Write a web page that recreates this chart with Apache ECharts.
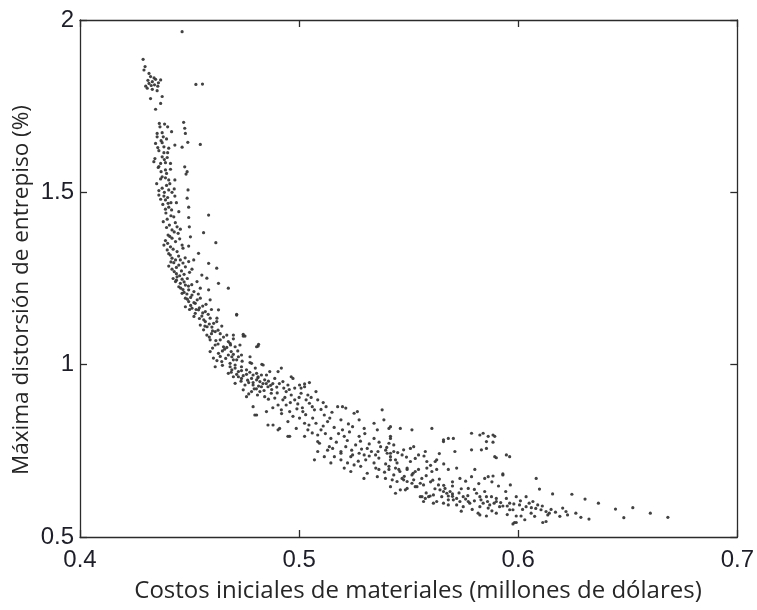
<!DOCTYPE html>
<html>
<head>
<meta charset="utf-8">
<script src="https://cdn.jsdelivr.net/npm/echarts@6/dist/echarts.min.js"></script>
<style>
  html, body { margin: 0; padding: 0; background: #fff; }
  #chart { width: 757px; height: 610px; }
</style>
</head>
<body>
<div id="chart"></div>
<script>
// Material cost (millions of dollars) vs. maximum interstory drift (%), one point per design.
const steepBranch = [
  [0.4466,1.966],[0.4288,1.886],[0.4297,1.865],[0.4292,1.855],[0.4315,1.845],[0.4322,1.836],[0.4345,1.828],
  [0.4368,1.826],[0.4330,1.821],[0.4315,1.816],[0.4338,1.832],[0.4358,1.818],[0.4300,1.808],[0.4307,1.802],
  [0.4330,1.799],[0.4352,1.795],[0.4375,1.778],[0.4322,1.772],[0.4368,1.758],[0.4345,1.741],[0.4529,1.813],
  [0.4559,1.814],[0.4386,1.698],[0.4473,1.703],[0.4478,1.686],[0.4481,1.671],[0.4352,1.671],[0.4375,1.673],
  [0.4418,1.676],[0.4352,1.661],[0.4380,1.661],[0.4345,1.642],[0.4375,1.644],[0.4433,1.637],[0.4466,1.631],
  [0.4492,1.645],[0.4549,1.639],[0.4383,1.632],[0.4405,1.628],[0.4360,1.621],[0.4383,1.615],[0.4375,1.603],
  [0.4398,1.601],[0.4337,1.589],[0.4368,1.584],[0.4390,1.586],[0.4413,1.584],[0.4357,1.572],[0.4390,1.565],
  [0.4413,1.567],[0.4478,1.574],[0.4489,1.560],[0.4484,1.553],[0.4368,1.539],[0.4390,1.542],[0.4405,1.536],
  [0.4433,1.536],[0.4375,1.512],[0.4405,1.507],[0.4493,1.507],[0.4360,1.492],[0.4383,1.489],[0.4433,1.489],
  [0.4368,1.480],[0.4390,1.478],[0.4402,1.468],[0.4489,1.483],[0.4440,1.470],[0.4405,1.457],[0.4390,1.451],
  [0.4418,1.449],[0.4496,1.457],[0.4362,1.700],[0.4395,1.655],[0.4342,1.598],[0.4370,1.560],[0.4350,1.525],
  [0.4395,1.520],[0.4420,1.500],[0.4378,1.465],
  [0.4340,1.812],[0.4325,1.810],[0.4355,1.808],[0.4310,1.825],[0.4365,1.690],[0.4400,1.690],[0.4370,1.650],
  [0.4355,1.630],[0.4400,1.615],[0.4385,1.595],[0.4360,1.575],[0.4395,1.555],[0.4375,1.545],[0.4410,1.525],
  [0.4385,1.500],[0.4430,1.510],[0.4360,1.505],[0.4400,1.485],[0.4415,1.470]
];

const bend = [
  [0.4587,1.434],[0.4451,1.444],[0.4428,1.429],[0.4398,1.422],[0.4496,1.427],[0.4408,1.405],[0.4443,1.400],
  [0.4458,1.393],[0.4420,1.391],[0.4402,1.376],[0.4448,1.381],[0.4499,1.400],[0.4504,1.371],[0.4564,1.383],
  [0.4420,1.367],[0.4383,1.347],[0.4413,1.342],[0.4466,1.347],[0.4496,1.344],[0.4620,1.354],[0.4436,1.357],
  [0.4398,1.333],[0.4443,1.328],[0.4541,1.323],[0.4420,1.309],[0.4436,1.304],[0.4458,1.304],[0.4496,1.299],
  [0.4519,1.304],[0.4587,1.294],[0.4451,1.289],[0.4481,1.284],[0.4420,1.277],[0.4511,1.277],[0.4624,1.280],
  [0.4556,1.260],[0.4443,1.255],[0.4466,1.248],[0.4436,1.241],[0.4534,1.241],[0.4579,1.251],[0.4632,1.236],
  [0.4677,1.222],[0.4481,1.231],[0.4451,1.226],[0.4496,1.217],[0.4549,1.222],[0.4587,1.217],[0.4466,1.207],
  [0.4511,1.202],[0.4481,1.193],[0.4549,1.193],[0.4594,1.188],[0.4496,1.183],[0.4526,1.178],[0.4481,1.168],
  [0.4511,1.164],[0.4541,1.159],[0.4572,1.154],[0.4632,1.159],[0.4715,1.144],[0.4526,1.149],[0.4556,1.141],
  [0.4594,1.135],[0.4624,1.125],[0.4572,1.125],[0.4549,1.115],[0.4602,1.109],[0.4647,1.112],[0.4564,1.101],
  [0.4617,1.096],[0.4670,1.086],[0.4745,1.083],[0.4579,1.086],[0.4594,1.072],[0.4640,1.072],[0.4677,1.067],
  [0.4617,1.057],[0.4655,1.052],[0.4708,1.052],[0.4813,1.054],[0.4594,1.038],[0.4632,1.033],[0.4677,1.028],
  [0.4737,1.028],[0.4609,1.019],[0.4700,1.014],[0.4723,1.023],[0.4647,1.009],[0.4776,1.006],
  [0.4412,1.318],[0.4428,1.296],[0.4405,1.286],[0.4463,1.272],[0.4440,1.264],[0.4475,1.262],[0.4425,1.250],
  [0.4490,1.250],[0.4458,1.236],[0.4470,1.218],[0.4520,1.212],[0.4488,1.205],[0.4535,1.188],[0.4505,1.172],
  [0.4560,1.170],[0.4530,1.160],[0.4585,1.146],[0.4545,1.134],[0.4610,1.120],[0.4580,1.110],[0.4630,1.100],
  [0.4600,1.090],[0.4655,1.080],[0.4620,1.070],[0.4700,1.075],[0.4660,1.045],[0.4690,1.038],[0.4640,1.024],
  [0.4720,1.040],[0.4685,1.062],[0.4700,1.086],[0.4745,1.088],[0.4815,1.059],[0.4730,1.057],[0.4687,1.057],
  [0.4693,1.023],[0.4715,1.014],[0.4776,1.023],[0.4685,1.004],[0.4783,1.004],[0.4715,1.146],[0.4753,1.083],
  [0.4806,1.052],[0.4830,1.001],
  [0.4392,1.440],[0.4415,1.432],[0.4380,1.415],[0.4435,1.412],[0.4395,1.398],[0.4430,1.385],[0.4410,1.372],
  [0.4390,1.360],[0.4455,1.365],[0.4400,1.352],[0.4425,1.335],[0.4470,1.338],[0.4405,1.322],[0.4450,1.315],
  [0.4480,1.310],[0.4415,1.298],[0.4440,1.282],[0.4470,1.295],[0.4430,1.270],[0.4455,1.258],[0.4500,1.268],
  [0.4440,1.245],[0.4475,1.240],[0.4510,1.232],[0.4460,1.222],[0.4495,1.228],[0.4475,1.210],[0.4505,1.195],
  [0.4540,1.205],[0.4490,1.190],[0.4520,1.180],[0.4500,1.160],[0.4545,1.165],[0.4575,1.175],[0.4520,1.140],
  [0.4560,1.150],[0.4600,1.160],[0.4565,1.130],[0.4590,1.118],[0.4625,1.135],[0.4570,1.112],[0.4605,1.098],
  [0.4640,1.090],[0.4590,1.080],[0.4630,1.060],[0.4670,1.050],[0.4605,1.048],[0.4650,1.040],[0.4700,1.030],
  [0.4625,1.012],[0.4665,1.018],[0.4740,1.010]
];

const midBand = [
  [0.4836,0.999],[0.4617,0.994],[0.4685,0.994],[0.4708,0.990],[0.4737,0.983],[0.4790,0.970],[0.4813,0.965],
  [0.4851,0.970],[0.4677,0.975],[0.4723,0.965],[0.4708,0.999],[0.4737,0.994],[0.4693,0.985],[0.4723,0.980],
  [0.4760,0.985],[0.4806,0.975],[0.4828,0.970],[0.4866,0.980],[0.4919,0.990],[0.4904,0.980],[0.4700,0.965],
  [0.4737,0.960],[0.4783,0.960],[0.4806,0.956],[0.4821,0.951],[0.4843,0.956],[0.4889,0.960],[0.4926,0.951],
  [0.4972,0.960],[0.5002,0.941],[0.5025,0.936],[0.4708,0.946],[0.4753,0.941],[0.4790,0.941],[0.4828,0.936],
  [0.4858,0.936],[0.4949,0.941],[0.4980,0.932],[0.4745,0.927],[0.4783,0.922],[0.4821,0.922],[0.4873,0.917],
  [0.4941,0.922],[0.4964,0.912],[0.5009,0.917],[0.5077,0.922],[0.4760,0.907],[0.4843,0.907],[0.4889,0.903],
  [0.4926,0.898],[0.4980,0.898],[0.5032,0.898],[0.5085,0.898],[0.4790,0.878],[0.4904,0.883],[0.4941,0.883],
  [0.4994,0.886],[0.5047,0.888],[0.5123,0.878],[0.4919,0.869],[0.4957,0.864],[0.5017,0.864],[0.5070,0.869],
  [0.5176,0.878],[0.5213,0.874],[0.5379,0.869],[0.4806,0.854],[0.4851,0.864],[0.4972,0.850],[0.5002,0.845],
  [0.5062,0.845],[0.5115,0.854],[0.5251,0.859],[0.4949,0.835],[0.5025,0.830],[0.5077,0.830],[0.5130,0.835],
  [0.5191,0.840],[0.5274,0.840],[0.5342,0.830],[0.5387,0.840],[0.4881,0.825],[0.4911,0.815],[0.4987,0.815],
  [0.5040,0.811],[0.5100,0.811],[0.5198,0.811],[0.5244,0.820],[0.5297,0.815],[0.5357,0.811],[0.5410,0.815],
  [0.4957,0.792],[0.5025,0.792],[0.5085,0.796],[0.5145,0.786],[0.5206,0.792],[0.5274,0.792],[0.5342,0.786],
  [0.5417,0.792],[0.5093,0.772],[0.5153,0.757],[0.5213,0.762],[0.5258,0.767],[0.5311,0.757],[0.5372,0.762],
  [0.5432,0.767],[0.5191,0.743],[0.5244,0.738],[0.5297,0.738],[0.5349,0.738],[0.5417,0.743],
  [0.4964,0.965],[0.5047,0.948],[0.5009,0.932],[0.5025,0.944],[0.5198,0.878],[0.5266,0.864],
  [0.5417,0.820],[0.5462,0.815],[0.5515,0.811],[0.5606,0.815],[0.5659,0.777],[0.5681,0.786],[0.5704,0.786],
  [0.5787,0.801],[0.5825,0.796],[0.5840,0.801],[0.5863,0.792],[0.5893,0.792],[0.5855,0.777],[0.5885,0.775],
  [0.5711,0.748],[0.5787,0.753],[0.5832,0.753],[0.5855,0.757],[0.5893,0.733],[0.5946,0.738],[0.5961,0.733],
  [0.5417,0.786],[0.5410,0.772],[0.5432,0.748],[0.5417,0.733],[0.5440,0.724],[0.5477,0.753],[0.5470,0.738],
  [0.5508,0.757],[0.5523,0.762],[0.5545,0.738],[0.5576,0.748],[0.5583,0.719],[0.5621,0.719],[0.5628,0.724],
  [0.5508,0.719],[0.5659,0.782],[0.5885,0.796],[0.5900,0.730],
  [0.5138,0.762],[0.5085,0.748],[0.5115,0.733],[0.5070,0.724],[0.5191,0.748],[0.5236,0.733],[0.5274,0.743],
  [0.5304,0.724],[0.5364,0.729],[0.5417,0.724],[0.5402,0.743],[0.5161,0.733],[0.5191,0.724],[0.5145,0.715],
  [0.5221,0.715],[0.5342,0.715],[0.5251,0.709],[0.5281,0.705],[0.5447,0.715],[0.5410,0.705],[0.5206,0.700],
  [0.5493,0.700],[0.4798,0.854],[0.4858,0.825],[0.4904,0.811],[0.4949,0.792],[0.5085,0.777],[0.5130,0.752],
  [0.4770,0.948],[0.4795,0.930],[0.4850,0.945],[0.4875,0.928],[0.4760,0.972],[0.4815,0.938],[0.4898,0.935],
  [0.5055,0.905],[0.5015,0.875],[0.5110,0.890],[0.5150,0.862],[0.5225,0.828],[0.5300,0.800],[0.5365,0.775],
  [0.5395,0.752],[0.5330,0.748],[0.5285,0.755],
  [0.4650,0.998],[0.4690,0.978],[0.4715,0.972],[0.4745,0.968],[0.4775,0.978],[0.4800,0.990],[0.4735,0.952],
  [0.4765,0.955],[0.4790,0.948],[0.4812,0.962],[0.4835,0.945],[0.4860,0.952],[0.4880,0.945],[0.4805,0.930],
  [0.4840,0.925],[0.4870,0.940],[0.4910,0.945],[0.4930,0.932],[0.4955,0.928],[0.4770,0.915],[0.4810,0.912],
  [0.4860,0.900],[0.4900,0.918],[0.4935,0.905],[0.4960,0.890],[0.5000,0.905],[0.5040,0.912],[0.5060,0.878],
  [0.4880,0.875],[0.4920,0.858],[0.4990,0.872],[0.5030,0.855],[0.5100,0.870],[0.5140,0.845],[0.5045,0.825],
  [0.5110,0.822],[0.5160,0.818],[0.5060,0.802],[0.5120,0.800],[0.5180,0.800],[0.5230,0.805],[0.5170,0.775],
  [0.5220,0.780],[0.5280,0.778],[0.5240,0.752],[0.5320,0.770],[0.5360,0.748],[0.5400,0.760],[0.5450,0.745],
  [0.5490,0.732],[0.5530,0.728],[0.5570,0.735],[0.5600,0.708],[0.5660,0.712],[0.5640,0.742],[0.5350,0.700],
  [0.5395,0.712],[0.5440,0.700],[0.5270,0.720],[0.5320,0.735]
];

const lowTail = [
  [0.5493,0.696],[0.5455,0.696],[0.5410,0.696],[0.5432,0.680],[0.5470,0.670],[0.5425,0.666],[0.5545,0.696],
  [0.5583,0.700],[0.5606,0.690],[0.5628,0.696],[0.5681,0.696],[0.5719,0.700],[0.5734,0.670],[0.5802,0.696],
  [0.5787,0.675],[0.5847,0.670],[0.5863,0.675],[0.5885,0.677],[0.5930,0.680],[0.6082,0.670],[0.5772,0.641],
  [0.5493,0.661],[0.5523,0.666],[0.5553,0.656],[0.5530,0.646],[0.5440,0.627],[0.5485,0.637],[0.5553,0.617],
  [0.5576,0.612],[0.5598,0.619],[0.5636,0.651],[0.5643,0.637],[0.5666,0.641],[0.5674,0.627],[0.5689,0.632],
  [0.5651,0.617],[0.5681,0.608],[0.5719,0.612],[0.5749,0.617],[0.5772,0.603],[0.5810,0.627],[0.5825,0.617],
  [0.5847,0.632],[0.5855,0.617],[0.5878,0.617],[0.5840,0.598],[0.5870,0.593],[0.5900,0.603],[0.5915,0.588],
  [0.5946,0.612],[0.5961,0.598],[0.5991,0.617],[0.6006,0.593],[0.5976,0.579],[0.6036,0.617],[0.6067,0.603],
  [0.6089,0.593],[0.6104,0.579],[0.6127,0.574],[0.6142,0.569],[0.6157,0.625],[0.6097,0.639],[0.6013,0.561],
  [0.5983,0.542],[0.5825,0.564],[0.5855,0.561],[0.5719,0.593],[0.5749,0.588],[0.5681,0.593],[0.5568,0.603],
  [0.5613,0.598],[0.6245,0.624],[0.6305,0.610],[0.6366,0.598],[0.6444,0.581],[0.6523,0.585],[0.6482,0.556],
  [0.6603,0.569],[0.6683,0.557],[0.6323,0.552],[0.6286,0.557],[0.6263,0.569],[0.6203,0.584],[0.6218,0.574],
  [0.6225,0.564],[0.6135,0.564],[0.6112,0.542],[0.6127,0.545],[0.5991,0.542],[0.5976,0.538],[0.5930,0.683],
  [0.5964,0.651],[0.5943,0.632],[0.5357,0.675],[0.5394,0.670],[0.5447,0.661],[0.5477,0.666],[0.5515,0.656],
  [0.5538,0.646],[0.5568,0.651],[0.5561,0.617],[0.5591,0.617],[0.5613,0.622],[0.5659,0.632],[0.5681,0.619],
  [0.5704,0.608],[0.5734,0.603],[0.5779,0.598],[0.5825,0.588],[0.5863,0.584],[0.5817,0.569],[0.5900,0.569],
  [0.5961,0.579],[0.5991,0.561],[0.6036,0.588],[0.6059,0.569],[0.5659,0.598],[0.5628,0.603],[0.5493,0.641],
  [0.5462,0.637],[0.5417,0.646],[0.5515,0.680],[0.5364,0.696],[0.5311,0.685],[0.5296,0.670],[0.5236,0.690],
  [0.5700,0.625],[0.5760,0.610],[0.5800,0.605],[0.5890,0.598],[0.5930,0.590],[0.6020,0.580],[0.6060,0.585],
  [0.5560,0.670],[0.5600,0.660],[0.5640,0.668],[0.5520,0.685],[0.5460,0.690],[0.5390,0.688],[0.6150,0.580],
  [0.5480,0.676],[0.5530,0.690],[0.5580,0.678],[0.5610,0.665],[0.5660,0.650],[0.5700,0.648],[0.5740,0.640],
  [0.5620,0.640],[0.5580,0.628],[0.5700,0.618],[0.5730,0.628],[0.5770,0.620],[0.5800,0.638],[0.5830,0.608],
  [0.5860,0.603],[0.5900,0.612],[0.5920,0.600],[0.5950,0.590],[0.5980,0.596],[0.6010,0.605],[0.6050,0.598],
  [0.6080,0.583],[0.6110,0.590],[0.6170,0.572],[0.6190,0.560],[0.5950,0.565],[0.5880,0.576],[0.5790,0.580],
  [0.5740,0.575],[0.6030,0.550],[0.6075,0.560],[0.5700,0.660],[0.5760,0.662],[0.5820,0.655],[0.5880,0.660],
  [0.5910,0.648]
];

const xTicks = { min: 0.4, max: 0.7, interval: 0.1 };
const yTicks = { min: 0.5, max: 2, interval: 0.5 };

const points = steepBranch.concat(bend, midBand, lowTail);

const axisColor = '#2b2b2b';
const labelFont = { fontFamily: 'Liberation Sans, Arial, sans-serif', fontSize: 24, color: '#1e1e28' };
const titleFamily = '"Open Sans", "Noto Sans", sans-serif';

function fmt(v) { return String(Math.round(v * 10) / 10); }

const chart = echarts.init(document.getElementById('chart'), null, { renderer: 'canvas' });
chart.setOption({
  animation: false,
  backgroundColor: '#ffffff',
  grid: { left: 80, right: 18, top: 20, bottom: 73, containLabel: false },
  xAxis: [
    {
      type: 'value', position: 'bottom', min: xTicks.min, max: xTicks.max, interval: xTicks.interval,
      axisLine: { show: true, onZero: false, lineStyle: { color: axisColor, width: 1.3 } },
      axisTick: { show: true, inside: true, length: 7, lineStyle: { color: axisColor, width: 1.3 } },
      axisLabel: Object.assign({ margin: 11, formatter: fmt }, labelFont),
      splitLine: { show: false }
    },
    {
      type: 'value', position: 'top', min: xTicks.min, max: xTicks.max, interval: xTicks.interval,
      axisLine: { show: true, onZero: false, lineStyle: { color: axisColor, width: 1.3 } },
      axisTick: { show: true, inside: true, length: 7, lineStyle: { color: axisColor, width: 1.3 } },
      axisLabel: { show: false }, splitLine: { show: false }
    }
  ],
  yAxis: [
    {
      type: 'value', position: 'left', min: yTicks.min, max: yTicks.max, interval: yTicks.interval,
      axisLine: { show: true, onZero: false, lineStyle: { color: axisColor, width: 1.3 } },
      axisTick: { show: true, inside: true, length: 7, lineStyle: { color: axisColor, width: 1.3 } },
      axisLabel: Object.assign({ margin: 6, formatter: fmt }, labelFont),
      splitLine: { show: false }
    },
    {
      type: 'value', position: 'right', min: yTicks.min, max: yTicks.max, interval: yTicks.interval,
      axisLine: { show: true, onZero: false, lineStyle: { color: axisColor, width: 1.3 } },
      axisTick: { show: true, inside: true, length: 7, lineStyle: { color: axisColor, width: 1.3 } },
      axisLabel: { show: false }, splitLine: { show: false }
    }
  ],
  graphic: [
    {
      type: 'text', x: 418, y: 591,
      style: {
        text: 'Costos iniciales de materiales (millones de dólares)',
        font: '24px ' + titleFamily, fill: '#262626',
        textAlign: 'center', textVerticalAlign: 'middle'
      }
    },
    {
      type: 'text', x: 22, y: 290, rotation: Math.PI / 2,
      style: {
        text: 'Máxima distorsión de entrepiso (%)',
        font: '22.5px ' + titleFamily, fill: '#262626',
        textAlign: 'center', textVerticalAlign: 'middle'
      }
    }
  ],
  series: [{
    type: 'scatter',
    xAxisIndex: 0, yAxisIndex: 0,
    data: points,
    symbol: 'circle',
    symbolSize: 3.2,
    itemStyle: { color: '#383838', opacity: 0.95 },
    silent: true
  }]
});
</script>
</body>
</html>
